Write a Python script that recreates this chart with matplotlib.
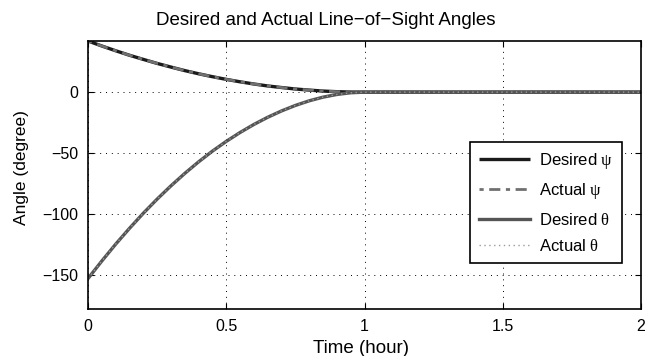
import matplotlib
matplotlib.use("Agg")
import matplotlib.pyplot as plt

plt.rcParams['font.family'] = ['Liberation Sans', 'DejaVu Sans']
plt.rcParams['mathtext.fontset'] = 'custom'
plt.rcParams['mathtext.it'] = 'Liberation Serif'
plt.rcParams['mathtext.rm'] = 'Liberation Serif'

t = [0.0, 0.05, 0.1, 0.15, 0.2, 0.25, 0.3, 0.35, 0.4, 0.45, 0.5,
     0.55, 0.6, 0.65, 0.7, 0.75, 0.8, 0.85, 0.9, 0.95, 1.0, 2.0]
psi_desired = [42.0, 37.9, 34.0, 30.3, 26.9, 23.6, 20.6, 17.7, 15.1, 12.7, 10.5,
               8.5, 6.7, 5.1, 3.8, 2.6, 1.7, 0.9, 0.4, 0.1, 0.0, 0.0]
psi_actual = list(psi_desired)
theta_desired = [-153.0, -138.6, -124.8, -111.8, -99.4, -87.8, -76.9, -66.7, -57.2, -48.4, -40.4,
                 -33.1, -26.5, -20.6, -15.4, -10.9, -7.1, -4.1, -1.9, -0.5, 0.0, 0.0]
theta_actual = list(theta_desired)

xticks = [0, 0.5, 1, 1.5, 2]
xticklabels = ['0', '0.5', '1', '1.5', '2']
yticks = [-150, -100, -50, 0]
yticklabels = ['\u2212150', '\u2212100', '\u221250', '0']

fig = plt.figure(figsize=(6.6, 3.56), dpi=100)
ax = fig.add_axes([88/660, 47/356, 553/660, 268/356])

ax.plot(t, psi_desired, color='#1a1a1a', lw=2.4, solid_capstyle='butt', label='Desired $\\psi$')
ax.plot(t, psi_actual, color='#707070', lw=2.0, ls=(0, (1.5, 2, 4, 2)), label='Actual $\\psi$')
ax.plot(t, theta_desired, color='#555555', lw=2.4, label='Desired $\\theta$')
ax.plot(t, theta_actual, color='#9a9a9a', lw=1.0, ls=(0, (1, 2.5)), label='Actual $\\theta$')

ax.set_xlim(0, 2)
ax.set_ylim(-178, 42)
ax.set_xticks(xticks)
ax.set_xticklabels(xticklabels)
ax.set_yticks(yticks)
ax.set_yticklabels(yticklabels)
ax.tick_params(direction='in', length=4, width=0.8, labelsize=11.5, top=True, right=True, pad=7)
ax.grid(True, color='black', ls=(0, (1, 5)), lw=0.7)
for s in ax.spines.values():
    s.set_linewidth(1.2)

fig.text(326/660, (356-25)/356, 'Desired and Actual Line\u2212of\u2212Sight Angles',
         fontsize=13.5, ha='center', va='baseline')
ax.set_xlabel('Time (hour)', fontsize=13.5)
ax.xaxis.set_label_coords((361-88)/553, (309-353)/268)
ax.xaxis.label.set_va('baseline')
ax.set_ylabel('Angle (degree)', fontsize=12.5)
ax.yaxis.set_label_coords((22-88)/553, (309-168)/268)
ax.yaxis.label.set_va('center')

leg = ax.legend(loc='lower right', bbox_to_anchor=((622-88)/553, (309-263)/268), borderaxespad=0,
                fontsize=12, frameon=True, fancybox=False, edgecolor='black', framealpha=1,
                handlelength=3.1, borderpad=0.55, labelspacing=0.62, handletextpad=0.5,
                prop={'size': 12})
leg.get_frame().set_linewidth(1.2)

fig.savefig('out.png', dpi=100)
